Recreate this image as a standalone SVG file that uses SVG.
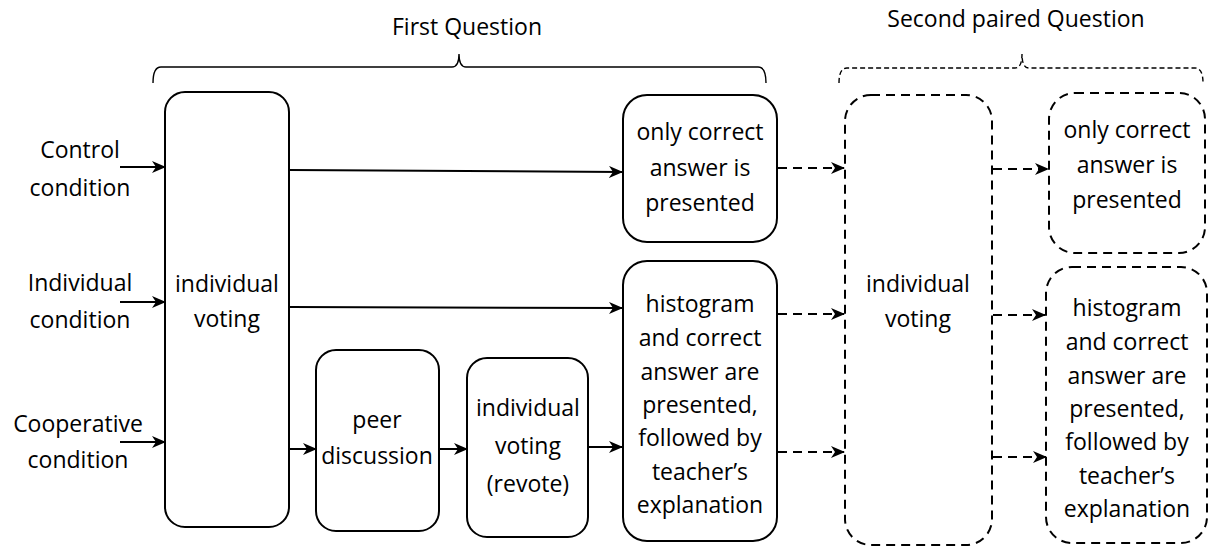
<svg xmlns="http://www.w3.org/2000/svg" width="1210" height="548" viewBox="0 0 1210 548">
<defs>
<marker id="ah" markerWidth="14" markerHeight="12" refX="13" refY="6" orient="auto" markerUnits="userSpaceOnUse">
<path d="M0,0 L14,6 L0,12 L4,6 z" fill="#000"/>
</marker>
<style>
text{font-family:"Open Sans","Liberation Sans",sans-serif;font-size:23px;fill:#000;text-anchor:middle}
.box{fill:#fff;stroke:#000;stroke-width:2}
.dbox{fill:#fff;stroke:#000;stroke-width:2;stroke-dasharray:9 6}
.ln{fill:none;stroke:#000;stroke-width:2;marker-end:url(#ah)}
.dln{fill:none;stroke:#000;stroke-width:2;stroke-dasharray:9 6;marker-end:url(#ah)}
.brace{fill:none;stroke:#000;stroke-width:1.4}
</style>
</defs>
<rect width="1210" height="548" fill="#fff"/>
<g id="labels">
<text x="467" y="35">First Question</text>
<text x="1016" y="27">Second paired Question</text>
<path class="brace" d="M153,83 Q153,67 161,67 L452,67 Q459,67 459,54 Q459,67 466,67 L758,67 Q766,67 766,83"/>
<path class="brace" stroke-dasharray="5 3" d="M839,83 Q839,68 847,68 L1015,68 Q1022,68 1022,54 Q1022,68 1029,68 L1195,68 Q1203,68 1203,83"/>
<text x="80" y="158">Control</text><text x="80" y="196">condition</text>
<text x="80" y="291">Individual</text><text x="80" y="328">condition</text>
<text x="78" y="432">Cooperative</text><text x="78" y="468">condition</text>
</g>
<g id="connectors">
<line class="ln" x1="120" y1="167" x2="165" y2="167"/>
<line class="ln" x1="120" y1="302" x2="165" y2="302"/>
<line class="ln" x1="120" y1="442" x2="165" y2="442"/>
<line class="ln" x1="290" y1="170" x2="622" y2="172"/>
<line class="ln" x1="290" y1="307" x2="622" y2="308"/>
<line class="ln" x1="290" y1="449" x2="316" y2="449"/>
<line class="ln" x1="440" y1="449" x2="467" y2="449"/>
<line class="ln" x1="589" y1="447" x2="622" y2="447"/>
<line class="dln" x1="778" y1="168" x2="844" y2="168"/>
<line class="dln" x1="778" y1="314" x2="844" y2="314"/>
<line class="dln" x1="778" y1="452" x2="844" y2="452"/>
<line class="dln" x1="993" y1="169" x2="1048" y2="169"/>
<line class="dln" x1="993" y1="315" x2="1045" y2="315"/>
<line class="dln" x1="993" y1="457" x2="1046" y2="457"/>
</g>
<g id="n_voting1">
<rect class="box" x="165" y="92" width="124" height="435" rx="20"/>
<text x="227" y="292">individual</text><text x="227" y="327">voting</text>
</g>
<g id="n_peer">
<rect class="box" x="316" y="350" width="123" height="181" rx="20"/>
<text x="377" y="428">peer</text><text x="377" y="464">discussion</text>
</g>
<g id="n_revote">
<rect class="box" x="467" y="358" width="121" height="179" rx="20"/>
<text x="528" y="416">individual</text><text x="528" y="454">voting</text><text x="528" y="492">(revote)</text>
</g>
<g id="n_correct1">
<rect class="box" x="623" y="95" width="154" height="147" rx="24"/>
<text x="700" y="140">only correct</text><text x="700" y="176">answer is</text><text x="700" y="211">presented</text>
</g>
<g id="n_hist1">
<rect class="box" x="623" y="261" width="154" height="280" rx="24"/>
<text x="700" y="312">histogram</text><text x="700" y="346">and correct</text><text x="700" y="380">answer are</text><text x="700" y="413">presented,</text><text x="700" y="446">followed by</text><text x="700" y="480">teacher’s</text><text x="700" y="513">explanation</text>
</g>
<g id="n_voting2">
<rect class="dbox" x="845" y="95" width="147" height="450" rx="26"/>
<text x="918" y="292">individual</text><text x="918" y="327">voting</text>
</g>
<g id="n_correct2">
<rect class="dbox" x="1049" y="93" width="156" height="160" rx="26"/>
<text x="1127" y="138">only correct</text><text x="1127" y="173">answer is</text><text x="1127" y="208">presented</text>
</g>
<g id="n_hist2">
<rect class="dbox" x="1046" y="267" width="161" height="276" rx="26"/>
<text x="1127" y="316">histogram</text><text x="1127" y="350">and correct</text><text x="1127" y="384">answer are</text><text x="1127" y="417">presented,</text><text x="1127" y="450">followed by</text><text x="1127" y="484">teacher’s</text><text x="1127" y="517">explanation</text>
</g>
</svg>
